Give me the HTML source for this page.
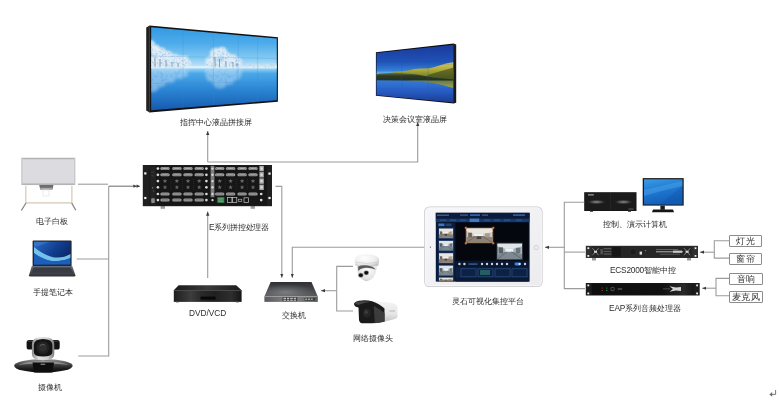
<!DOCTYPE html>
<html><head><meta charset="utf-8">
<style>
html,body{margin:0;padding:0;background:#fff;}
body{width:780px;height:406px;position:relative;overflow:hidden;font-family:"Liberation Sans",sans-serif;}
svg{position:absolute;left:0;top:0;}
.t{position:absolute;white-space:nowrap;font-size:8.3px;line-height:9px;color:#2e2e2e;will-change:transform;}
.bx{position:absolute;border:1px solid #8c8c8c;border-radius:1px;background:#fff;font-size:9px;line-height:10px;color:#333;text-align:center;will-change:transform;}
</style></head><body>
<svg width="780" height="406" viewBox="0 0 780 406">
<defs>
  <marker id="ar" markerWidth="6" markerHeight="6" refX="4.2" refY="3" orient="auto" markerUnits="userSpaceOnUse">
    <path d="M0,1.3 L4.2,3 L0,4.7 Z" fill="#3a3a3a"/>
  </marker>
  <marker id="ar2" markerWidth="8" markerHeight="6" refX="6.4" refY="3" orient="auto" markerUnits="userSpaceOnUse">
    <path d="M0,1.4 L3.2,3 L0,4.6 Z M3.2,1.4 L6.4,3 L3.2,4.6 Z" fill="#3a3a3a"/>
  </marker>
</defs>

<!-- ===== video wall 1 ===== -->
<defs>
  <clipPath id="w1c"><path d="M151.2,27.2 L276.8,38.6 L276.8,100.3 L151.2,110.3 Z"/></clipPath>
  <linearGradient id="w1sky" gradientUnits="userSpaceOnUse" x1="0" y1="27" x2="0" y2="110">
    <stop offset="0" stop-color="#3299e2"/><stop offset="0.2" stop-color="#4eaceb"/><stop offset="0.38" stop-color="#86cbf2"/>
    <stop offset="0.46" stop-color="#b6def6"/><stop offset="0.485" stop-color="#dff1fb"/><stop offset="0.51" stop-color="#8ccdf2"/>
    <stop offset="0.56" stop-color="#4aa8e9"/><stop offset="0.75" stop-color="#2c86d4"/><stop offset="1" stop-color="#175ab0"/>
  </linearGradient>
  <filter id="snow" x="-10%" y="-10%" width="120%" height="120%"><feGaussianBlur in="SourceGraphic" stdDeviation="1" result="g"/><feTurbulence type="fractalNoise" baseFrequency="0.45" numOctaves="2" seed="4" result="n"/><feColorMatrix in="n" type="matrix" values="0 0 0 0 0.42  0 0 0 0 0.6  0 0 0 0 0.78  0 0 0 -3.2 1.75" result="c"/><feComposite in="c" in2="g" operator="in" result="t"/><feMerge><feMergeNode in="g"/><feMergeNode in="t"/></feMerge></filter>
  <filter id="snow2" x="-10%" y="-10%" width="120%" height="120%"><feGaussianBlur in="SourceGraphic" stdDeviation="1.4" result="g"/><feTurbulence type="fractalNoise" baseFrequency="0.28" numOctaves="2" seed="7" result="n"/><feColorMatrix in="n" type="matrix" values="0 0 0 0 0.25  0 0 0 0 0.5  0 0 0 0 0.8  0 0 0 -2.4 1.3" result="c"/><feComposite in="c" in2="g" operator="in" result="t"/><feMerge><feMergeNode in="g"/><feMergeNode in="t"/></feMerge></filter>
  <filter id="bl1" x="-30%" y="-30%" width="160%" height="160%"><feGaussianBlur stdDeviation="1.2"/></filter>
  <filter id="bl2" x="-30%" y="-30%" width="160%" height="160%"><feGaussianBlur stdDeviation="2"/></filter>
  <filter id="bl05" x="-30%" y="-30%" width="160%" height="160%"><feGaussianBlur stdDeviation="0.6"/></filter>
  <clipPath id="w2c"><path d="M376.5,53 L453.2,44.8 L453.2,102.4 L376.5,95.2 Z"/></clipPath>
  <linearGradient id="w2sky" gradientUnits="userSpaceOnUse" x1="0" y1="44" x2="0" y2="103">
    <stop offset="0" stop-color="#1a389a"/><stop offset="0.3" stop-color="#2052b6"/><stop offset="0.45" stop-color="#3480d8"/>
    <stop offset="0.5" stop-color="#78b6ea"/><stop offset="0.56" stop-color="#3a82dc"/><stop offset="0.78" stop-color="#2860c6"/><stop offset="1" stop-color="#1b3a92"/>
  </linearGradient>
  <linearGradient id="w2mt" gradientUnits="userSpaceOnUse" x1="0" y1="62" x2="0" y2="80">
    <stop offset="0" stop-color="#d2c66a"/><stop offset="0.45" stop-color="#adaa36"/><stop offset="1" stop-color="#5c6a22"/>
  </linearGradient>
  <linearGradient id="w2tl" gradientUnits="userSpaceOnUse" x1="0" y1="72.5" x2="0" y2="81">
    <stop offset="0" stop-color="#6a7a4a"/><stop offset="0.4" stop-color="#2e3a24"/><stop offset="1" stop-color="#223020"/>
  </linearGradient>
  <linearGradient id="w2rf" gradientUnits="userSpaceOnUse" x1="0" y1="78" x2="0" y2="95">
    <stop offset="0" stop-color="#5a6a2a"/><stop offset="0.5" stop-color="#a3a440"/><stop offset="1" stop-color="#3a6ac8" stop-opacity="0"/>
  </linearGradient>
</defs>
<path d="M146.2,27.6 L149.6,25.4 L149.6,112.4 L146.2,110.4 Z" fill="#222"/>
<path d="M149.4,25.4 L277.9,37.2 L277.9,101.8 L149.4,112.4 Z" fill="#121212"/>
<g clip-path="url(#w1c)">
  <rect x="150" y="26" width="128" height="86" fill="url(#w1sky)"/>
  <!-- trees left mass -->
  <g filter="url(#snow)" fill="#dfedf8">
    <circle cx="150" cy="45" r="5"/><circle cx="155" cy="50" r="5.5"/><circle cx="161" cy="53" r="5.5"/><circle cx="168" cy="56" r="5"/><circle cx="175" cy="58.5" r="4.5"/><circle cx="182" cy="61" r="4"/><circle cx="188" cy="63.5" r="3.2"/>
    <rect x="150" y="56" width="38" height="12"/>
    <circle cx="210" cy="61" r="4.5"/><circle cx="216" cy="54" r="6"/><circle cx="222" cy="52" r="5"/><circle cx="227" cy="57" r="4.5"/><circle cx="233" cy="59" r="4.5"/><circle cx="238" cy="62" r="4"/>
    <rect x="206" y="61" width="35" height="7"/>
  </g>
  <g stroke="#4f6c8c" stroke-width="0.7" opacity="0.85">
    <path d="M155,57 V68 M160,59 V68 M166,60 V68 M172,62 V68 M178,63 V68 M215,57 V68 M219.5,59 V68 M226,61 V68 M233,62 V68 M237,63 V68"/>
  </g>
  <rect x="150" y="66.6" width="128" height="1.4" fill="#eef7fc" opacity="0.6"/>
  <g filter="url(#snow)" opacity="0.8"><path d="M241,68 L241,65.5 Q255,64 278,64.2 L278,68 Z" fill="#d6e8f5"/></g>
  
  <!-- reflections -->
  <g filter="url(#snow2)" opacity="0.5" fill="#c4e0f6">
    <rect x="150" y="68.5" width="38" height="8"/><circle cx="152" cy="84" r="8"/><circle cx="160" cy="80" r="7"/><circle cx="170" cy="77" r="6"/><circle cx="180" cy="74" r="5"/>
    <rect x="205" y="68.5" width="37" height="6"/><circle cx="212" cy="76" r="6"/><circle cx="220" cy="81" r="7.5"/><circle cx="229" cy="79" r="5.5"/><circle cx="236" cy="75" r="5"/>
  </g>
  <g stroke="#3a8ad4" stroke-width="0.45" opacity="0.5" fill="none">
    <path d="M183,26 V112 M213.4,26 V112 M238.2,26 V112 M257.6,26 V112"/>
    <path d="M150,56 L278,58.5 M150,83.5 L278,82"/>
  </g>
</g>
<!-- ===== video wall 2 ===== -->
<path d="M453.6,43.4 L456.2,44.6 L456.2,102.8 L453.6,103.6 Z" fill="#1a1a1a"/>
<path d="M375.9,52.2 L453.8,43.4 L453.8,103.4 L375.9,95.8 Z" fill="#0b0b0b"/>
<g clip-path="url(#w2c)">
  <rect x="376" y="44" width="78" height="60" fill="url(#w2sky)"/>
  <path d="M384,74 Q396,71.5 408,70.5 Q415,68.5 421,68.5 Q427,68.6 431,68 Q440,65.5 446,63.6 Q450,62.6 454,62.2 L454,80 L384,80 Z" fill="url(#w2mt)" filter="url(#bl05)"/>
  <path d="M428,75 Q440,71 454,67.5 L454,80 L424,80 Z" fill="#3c4a1c" opacity="0.65" filter="url(#bl05)"/>
  <path d="M376,74.2 Q381,72.8 387,73.3 Q395,72.4 401,73.2 Q410,73.6 417,74.5 Q425,76.2 433,77.4 L454,79.4 L454,81 L376,80.2 Z" fill="url(#w2tl)" filter="url(#bl05)"/>
  <path d="M404,80.5 Q424,81.5 438,84 Q447,86.2 454,88.5 L454,80.5 Z" fill="url(#w2rf)" opacity="0.85" filter="url(#bl05)"/>
  <g stroke="#2a5ab8" stroke-width="0.45" opacity="0.55" fill="none">
    <path d="M401.6,44 V104 M428.1,44 V104 M376,65.5 L454,64 M376,88.5 L454,89"/>
  </g>
</g>
<!-- ===== whiteboard ===== -->
<g>
  <path d="M25.8,186 V203 M71.9,186 V203" stroke="#d6c7b2" stroke-width="1.2"/>
  <path d="M25.8,202.8 H71.9" stroke="#d6c7b2" stroke-width="1.2"/>
  <path d="M26,203 L21.3,210.5 M71.7,203 L75.8,210.3" stroke="#8a8580" stroke-width="1.3"/>
  <rect x="21.2" y="157.7" width="54.2" height="27.4" fill="#c6c6c9"/>
  <rect x="22.4" y="159" width="51.8" height="24.8" fill="#dcdce0"/>
  <rect x="22.4" y="158.2" width="51.8" height="1" fill="#acacae"/><rect x="22.4" y="183.6" width="51.8" height="1" fill="#a9a9ab"/>
  <path d="M39.2,185 H53.5 L52.5,189.5 H40.2 Z" fill="#6d6d6d"/>
  <rect x="40.2" y="187.8" width="12.3" height="1.6" fill="#a9a9a9"/>
  <rect x="43" y="190" width="6" height="6" fill="none" stroke="#e2e2e2" stroke-width="0.7"/>
</g>
<!-- ===== laptop ===== -->
<defs>
  <linearGradient id="lpscr" x1="0" y1="0" x2="1" y2="0.6">
    <stop offset="0" stop-color="#2a6cc4"/><stop offset="0.55" stop-color="#123f92"/><stop offset="1" stop-color="#0a2666"/>
  </linearGradient>
  <linearGradient id="lpbase" x1="0" y1="0" x2="0" y2="1">
    <stop offset="0" stop-color="#6a6e78"/><stop offset="0.6" stop-color="#464a53"/><stop offset="1" stop-color="#2c2f35"/>
  </linearGradient>
</defs>
<g>
  <rect x="32.6" y="240.6" width="39" height="25.6" rx="0.8" fill="#25272c"/>
  <rect x="34" y="241.8" width="36.4" height="22.8" fill="url(#lpscr)"/>
  <path d="M34,247 Q42,254 52,257 Q62,259 70.4,254 L70.4,258 Q62,262 50,261 Q40,259 34,253 Z" fill="#7fd0f4" opacity="0.9" filter="url(#bl05)"/>
  <path d="M34,253 Q42,259 52,261 Q62,262 70.4,258 L70.4,264.6 H34 Z" fill="#1d5fb8"/>
  <path d="M34,241.8 H50 Q42,245 34,247 Z" fill="#3a7fd0" opacity="0.6"/>
  <path d="M31.8,266 H72.2 L75.4,275.2 Q75.4,276.4 74.2,276.4 H30.2 Q29,276.4 29,275.2 Z" fill="url(#lpbase)"/>
  <path d="M33.6,267.6 H70.6 L72.6,272.8 H31.6 Z" fill="#383b42"/>
</g>
<!-- ===== conference camera ===== -->
<defs>
  <linearGradient id="cmbase" x1="0" y1="0" x2="0" y2="1">
    <stop offset="0" stop-color="#9a9a9a"/><stop offset="0.35" stop-color="#4a4a4a"/><stop offset="0.7" stop-color="#1e1e1e"/><stop offset="1" stop-color="#0a0a0a"/>
  </linearGradient>
  <linearGradient id="cmring" x1="0" y1="0" x2="1" y2="0">
    <stop offset="0" stop-color="#8a8a8a"/><stop offset="0.3" stop-color="#e0e0e0"/><stop offset="0.7" stop-color="#d0d0d0"/><stop offset="1" stop-color="#7a7a7a"/>
  </linearGradient>
</defs>
<g>
  <ellipse cx="43.4" cy="365.8" rx="29.3" ry="6.8" fill="url(#cmbase)"/>
  <path d="M18,365 Q25,361.5 43,361 Q61,361.5 69,365 Q61,363.5 43,363.4 Q25,363.5 18,365 Z" fill="#b5b5b5" opacity="0.6"/>
  <path d="M32.5,362.6 H54 L52.5,372.4 H34 Z" fill="#0e0e0e"/>
  <rect x="40.6" y="363.6" width="4.6" height="1.4" fill="#7a7a7a"/>
  <rect x="26.6" y="340" width="33.1" height="9.5" rx="2.6" fill="#121212"/>
  <rect x="27.5" y="340.6" width="31" height="1.4" rx="0.7" fill="#3a3a3a" opacity="0.8"/>
  <path d="M31.9,344 Q31.9,337.1 43,337.1 Q54.3,337.1 54.3,344 V354 Q54.3,360.2 43,360.2 Q31.9,360.2 31.9,354 Z" fill="url(#cmring)"/>
  <path d="M33.8,345 Q33.8,339 43,339 Q52.4,339 52.4,345 V352 Q52.4,356.5 43,356.5 Q33.8,356.5 33.8,352 Z" fill="#141414"/>
  <circle cx="42.8" cy="347.6" r="6.4" fill="#222"/>
  <circle cx="42.8" cy="347.6" r="4" fill="#2e2e2e"/>
  <path d="M40,345.5 Q42,343.8 45,345" stroke="#6a6a6a" stroke-width="0.8" fill="none"/>
</g>
<!-- ===== processor ===== -->
<g>
<rect x="160.6" y="205" width="4.4" height="3.8" fill="#a0a0a0"/><rect x="250.6" y="205" width="4.4" height="3.8" fill="#a0a0a0"/>
<rect x="142.8" y="165" width="129.2" height="41.2" fill="#1f1f1f"/>
<rect x="149.6" y="165.8" width="117.4" height="39.6" fill="#161616"/>
<rect x="150.2" y="166.4" width="5.6" height="38.4" fill="#222"/>
<rect x="144.20000000000002" y="172.3" width="2.2" height="2.2" fill="#f2f2f2"/>
<rect x="144.20000000000002" y="196.9" width="2.2" height="2.2" fill="#f2f2f2"/>
<rect x="268.4" y="172.5" width="2.2" height="2.2" fill="#f2f2f2"/>
<rect x="268.4" y="196.9" width="2.2" height="2.2" fill="#f2f2f2"/>
<rect x="160.3" y="167.1" width="9.4" height="3" rx="1.5" fill="#9d9d9d"/><rect x="161.6" y="167.79999999999998" width="6.8" height="1.6" rx="0.8" fill="#5a5a5a"/><rect x="162.2" y="168.25" width="5.6" height="0.7" fill="#d0d0d0"/>
<rect x="172.20000000000002" y="167.1" width="9.4" height="3" rx="1.5" fill="#9d9d9d"/><rect x="173.5" y="167.79999999999998" width="6.8" height="1.6" rx="0.8" fill="#5a5a5a"/><rect x="174.1" y="168.25" width="5.6" height="0.7" fill="#d0d0d0"/>
<rect x="183.3" y="167.1" width="9.4" height="3" rx="1.5" fill="#9d9d9d"/><rect x="184.6" y="167.79999999999998" width="6.8" height="1.6" rx="0.8" fill="#5a5a5a"/><rect x="185.2" y="168.25" width="5.6" height="0.7" fill="#d0d0d0"/>
<rect x="194.5" y="167.1" width="9.4" height="3" rx="1.5" fill="#9d9d9d"/><rect x="195.79999999999998" y="167.79999999999998" width="6.8" height="1.6" rx="0.8" fill="#5a5a5a"/><rect x="196.39999999999998" y="168.25" width="5.6" height="0.7" fill="#d0d0d0"/>
<rect x="215.0" y="167.1" width="9.4" height="3" rx="1.5" fill="#9d9d9d"/><rect x="216.29999999999998" y="167.79999999999998" width="6.8" height="1.6" rx="0.8" fill="#5a5a5a"/><rect x="216.89999999999998" y="168.25" width="5.6" height="0.7" fill="#d0d0d0"/>
<rect x="225.9" y="167.1" width="9.4" height="3" rx="1.5" fill="#9d9d9d"/><rect x="227.2" y="167.79999999999998" width="6.8" height="1.6" rx="0.8" fill="#5a5a5a"/><rect x="227.79999999999998" y="168.25" width="5.6" height="0.7" fill="#d0d0d0"/>
<rect x="237.4" y="167.1" width="9.4" height="3" rx="1.5" fill="#9d9d9d"/><rect x="238.7" y="167.79999999999998" width="6.8" height="1.6" rx="0.8" fill="#5a5a5a"/><rect x="239.29999999999998" y="168.25" width="5.6" height="0.7" fill="#d0d0d0"/>
<rect x="248.3" y="167.1" width="9.4" height="3" rx="1.5" fill="#9d9d9d"/><rect x="249.6" y="167.79999999999998" width="6.8" height="1.6" rx="0.8" fill="#5a5a5a"/><rect x="250.2" y="168.25" width="5.6" height="0.7" fill="#d0d0d0"/>
<circle cx="157.9" cy="168.6" r="1.35" fill="#d8d8d8"/>
<circle cx="206.4" cy="168.6" r="1.35" fill="#d8d8d8"/>
<rect x="259.4" y="165.9" width="4.4" height="5.4" fill="#ababab"/>
<circle cx="261.6" cy="168.6" r="1.3" fill="#dadada"/>
<rect x="160.3" y="173.3" width="9.4" height="3" rx="1.5" fill="#9d9d9d"/><rect x="161.6" y="174.0" width="6.8" height="1.6" rx="0.8" fill="#5a5a5a"/><rect x="162.2" y="174.45000000000002" width="5.6" height="0.7" fill="#d0d0d0"/>
<rect x="172.20000000000002" y="173.3" width="9.4" height="3" rx="1.5" fill="#9d9d9d"/><rect x="173.5" y="174.0" width="6.8" height="1.6" rx="0.8" fill="#5a5a5a"/><rect x="174.1" y="174.45000000000002" width="5.6" height="0.7" fill="#d0d0d0"/>
<rect x="183.3" y="173.3" width="9.4" height="3" rx="1.5" fill="#9d9d9d"/><rect x="184.6" y="174.0" width="6.8" height="1.6" rx="0.8" fill="#5a5a5a"/><rect x="185.2" y="174.45000000000002" width="5.6" height="0.7" fill="#d0d0d0"/>
<rect x="194.5" y="173.3" width="9.4" height="3" rx="1.5" fill="#9d9d9d"/><rect x="195.79999999999998" y="174.0" width="6.8" height="1.6" rx="0.8" fill="#5a5a5a"/><rect x="196.39999999999998" y="174.45000000000002" width="5.6" height="0.7" fill="#d0d0d0"/>
<rect x="215.0" y="173.3" width="9.4" height="3" rx="1.5" fill="#9d9d9d"/><rect x="216.29999999999998" y="174.0" width="6.8" height="1.6" rx="0.8" fill="#5a5a5a"/><rect x="216.89999999999998" y="174.45000000000002" width="5.6" height="0.7" fill="#d0d0d0"/>
<rect x="225.9" y="173.3" width="9.4" height="3" rx="1.5" fill="#9d9d9d"/><rect x="227.2" y="174.0" width="6.8" height="1.6" rx="0.8" fill="#5a5a5a"/><rect x="227.79999999999998" y="174.45000000000002" width="5.6" height="0.7" fill="#d0d0d0"/>
<rect x="237.4" y="173.3" width="9.4" height="3" rx="1.5" fill="#9d9d9d"/><rect x="238.7" y="174.0" width="6.8" height="1.6" rx="0.8" fill="#5a5a5a"/><rect x="239.29999999999998" y="174.45000000000002" width="5.6" height="0.7" fill="#d0d0d0"/>
<rect x="248.3" y="173.3" width="9.4" height="3" rx="1.5" fill="#9d9d9d"/><rect x="249.6" y="174.0" width="6.8" height="1.6" rx="0.8" fill="#5a5a5a"/><rect x="250.2" y="174.45000000000002" width="5.6" height="0.7" fill="#d0d0d0"/>
<circle cx="157.9" cy="174.8" r="1.35" fill="#d8d8d8"/>
<circle cx="206.4" cy="174.8" r="1.35" fill="#d8d8d8"/>
<rect x="259.4" y="172.10000000000002" width="4.4" height="5.4" fill="#ababab"/>
<circle cx="261.6" cy="174.8" r="1.3" fill="#dadada"/>
<path d="M165.00,178.70 L165.59,180.29 L167.28,180.36 L165.95,181.41 L166.41,183.04 L165.00,182.10 L163.59,183.04 L164.05,181.41 L162.72,180.36 L164.41,180.29 Z" fill="#6a6a6a"/>
<path d="M176.90,178.70 L177.49,180.29 L179.18,180.36 L177.85,181.41 L178.31,183.04 L176.90,182.10 L175.49,183.04 L175.95,181.41 L174.62,180.36 L176.31,180.29 Z" fill="#6a6a6a"/>
<path d="M188.00,178.70 L188.59,180.29 L190.28,180.36 L188.95,181.41 L189.41,183.04 L188.00,182.10 L186.59,183.04 L187.05,181.41 L185.72,180.36 L187.41,180.29 Z" fill="#6a6a6a"/>
<path d="M199.20,178.70 L199.79,180.29 L201.48,180.36 L200.15,181.41 L200.61,183.04 L199.20,182.10 L197.79,183.04 L198.25,181.41 L196.92,180.36 L198.61,180.29 Z" fill="#6a6a6a"/>
<path d="M219.70,178.70 L220.29,180.29 L221.98,180.36 L220.65,181.41 L221.11,183.04 L219.70,182.10 L218.29,183.04 L218.75,181.41 L217.42,180.36 L219.11,180.29 Z" fill="#6a6a6a"/>
<path d="M230.60,178.70 L231.19,180.29 L232.88,180.36 L231.55,181.41 L232.01,183.04 L230.60,182.10 L229.19,183.04 L229.65,181.41 L228.32,180.36 L230.01,180.29 Z" fill="#6a6a6a"/>
<path d="M242.10,178.70 L242.69,180.29 L244.38,180.36 L243.05,181.41 L243.51,183.04 L242.10,182.10 L240.69,183.04 L241.15,181.41 L239.82,180.36 L241.51,180.29 Z" fill="#6a6a6a"/>
<path d="M253.00,178.70 L253.59,180.29 L255.28,180.36 L253.95,181.41 L254.41,183.04 L253.00,182.10 L251.59,183.04 L252.05,181.41 L250.72,180.36 L252.41,180.29 Z" fill="#6a6a6a"/>
<circle cx="157.9" cy="181.1" r="1.35" fill="#d8d8d8"/>
<circle cx="206.4" cy="181.1" r="1.35" fill="#d8d8d8"/>
<rect x="259.4" y="178.4" width="4.4" height="5.4" fill="#ababab"/>
<circle cx="261.6" cy="181.1" r="1.3" fill="#dadada"/>
<path d="M165.00,184.90 L165.59,186.49 L167.28,186.56 L165.95,187.61 L166.41,189.24 L165.00,188.30 L163.59,189.24 L164.05,187.61 L162.72,186.56 L164.41,186.49 Z" fill="#6a6a6a"/>
<path d="M176.90,184.90 L177.49,186.49 L179.18,186.56 L177.85,187.61 L178.31,189.24 L176.90,188.30 L175.49,189.24 L175.95,187.61 L174.62,186.56 L176.31,186.49 Z" fill="#6a6a6a"/>
<path d="M188.00,184.90 L188.59,186.49 L190.28,186.56 L188.95,187.61 L189.41,189.24 L188.00,188.30 L186.59,189.24 L187.05,187.61 L185.72,186.56 L187.41,186.49 Z" fill="#6a6a6a"/>
<path d="M199.20,184.90 L199.79,186.49 L201.48,186.56 L200.15,187.61 L200.61,189.24 L199.20,188.30 L197.79,189.24 L198.25,187.61 L196.92,186.56 L198.61,186.49 Z" fill="#6a6a6a"/>
<path d="M219.70,184.90 L220.29,186.49 L221.98,186.56 L220.65,187.61 L221.11,189.24 L219.70,188.30 L218.29,189.24 L218.75,187.61 L217.42,186.56 L219.11,186.49 Z" fill="#6a6a6a"/>
<path d="M230.60,184.90 L231.19,186.49 L232.88,186.56 L231.55,187.61 L232.01,189.24 L230.60,188.30 L229.19,189.24 L229.65,187.61 L228.32,186.56 L230.01,186.49 Z" fill="#6a6a6a"/>
<path d="M242.10,184.90 L242.69,186.49 L244.38,186.56 L243.05,187.61 L243.51,189.24 L242.10,188.30 L240.69,189.24 L241.15,187.61 L239.82,186.56 L241.51,186.49 Z" fill="#6a6a6a"/>
<path d="M253.00,184.90 L253.59,186.49 L255.28,186.56 L253.95,187.61 L254.41,189.24 L253.00,188.30 L251.59,189.24 L252.05,187.61 L250.72,186.56 L252.41,186.49 Z" fill="#6a6a6a"/>
<circle cx="157.9" cy="187.3" r="1.35" fill="#d8d8d8"/>
<circle cx="206.4" cy="187.3" r="1.35" fill="#d8d8d8"/>
<rect x="259.4" y="184.60000000000002" width="4.4" height="5.4" fill="#ababab"/>
<circle cx="261.6" cy="187.3" r="1.3" fill="#dadada"/>
<rect x="160.3" y="192.5" width="9.4" height="3" rx="1.5" fill="#9d9d9d"/><rect x="161.6" y="193.2" width="6.8" height="1.6" rx="0.8" fill="#5a5a5a"/><rect x="162.2" y="193.65" width="5.6" height="0.7" fill="#d0d0d0"/>
<rect x="172.20000000000002" y="192.5" width="9.4" height="3" rx="1.5" fill="#9d9d9d"/><rect x="173.5" y="193.2" width="6.8" height="1.6" rx="0.8" fill="#5a5a5a"/><rect x="174.1" y="193.65" width="5.6" height="0.7" fill="#d0d0d0"/>
<rect x="183.3" y="192.5" width="9.4" height="3" rx="1.5" fill="#9d9d9d"/><rect x="184.6" y="193.2" width="6.8" height="1.6" rx="0.8" fill="#5a5a5a"/><rect x="185.2" y="193.65" width="5.6" height="0.7" fill="#d0d0d0"/>
<rect x="194.5" y="192.5" width="9.4" height="3" rx="1.5" fill="#9d9d9d"/><rect x="195.79999999999998" y="193.2" width="6.8" height="1.6" rx="0.8" fill="#5a5a5a"/><rect x="196.39999999999998" y="193.65" width="5.6" height="0.7" fill="#d0d0d0"/>
<rect x="215.0" y="192.5" width="9.4" height="3" rx="1.5" fill="#9d9d9d"/><rect x="216.29999999999998" y="193.2" width="6.8" height="1.6" rx="0.8" fill="#5a5a5a"/><rect x="216.89999999999998" y="193.65" width="5.6" height="0.7" fill="#d0d0d0"/>
<rect x="225.9" y="192.5" width="9.4" height="3" rx="1.5" fill="#9d9d9d"/><rect x="227.2" y="193.2" width="6.8" height="1.6" rx="0.8" fill="#5a5a5a"/><rect x="227.79999999999998" y="193.65" width="5.6" height="0.7" fill="#d0d0d0"/>
<rect x="237.4" y="192.5" width="9.4" height="3" rx="1.5" fill="#9d9d9d"/><rect x="238.7" y="193.2" width="6.8" height="1.6" rx="0.8" fill="#5a5a5a"/><rect x="239.29999999999998" y="193.65" width="5.6" height="0.7" fill="#d0d0d0"/>
<rect x="248.3" y="192.5" width="9.4" height="3" rx="1.5" fill="#9d9d9d"/><rect x="249.6" y="193.2" width="6.8" height="1.6" rx="0.8" fill="#5a5a5a"/><rect x="250.2" y="193.65" width="5.6" height="0.7" fill="#d0d0d0"/>
<circle cx="157.9" cy="194" r="1.35" fill="#d8d8d8"/>
<circle cx="206.4" cy="194" r="1.35" fill="#d8d8d8"/>
<circle cx="261.2" cy="194" r="1.35" fill="#d8d8d8"/>
<rect x="160.3" y="198.6" width="9.4" height="3" rx="1.5" fill="#9d9d9d"/><rect x="161.6" y="199.29999999999998" width="6.8" height="1.6" rx="0.8" fill="#5a5a5a"/><rect x="162.2" y="199.75" width="5.6" height="0.7" fill="#d0d0d0"/>
<rect x="172.20000000000002" y="198.6" width="9.4" height="3" rx="1.5" fill="#9d9d9d"/><rect x="173.5" y="199.29999999999998" width="6.8" height="1.6" rx="0.8" fill="#5a5a5a"/><rect x="174.1" y="199.75" width="5.6" height="0.7" fill="#d0d0d0"/>
<rect x="183.3" y="198.6" width="9.4" height="3" rx="1.5" fill="#9d9d9d"/><rect x="184.6" y="199.29999999999998" width="6.8" height="1.6" rx="0.8" fill="#5a5a5a"/><rect x="185.2" y="199.75" width="5.6" height="0.7" fill="#d0d0d0"/>
<rect x="194.5" y="198.6" width="9.4" height="3" rx="1.5" fill="#9d9d9d"/><rect x="195.79999999999998" y="199.29999999999998" width="6.8" height="1.6" rx="0.8" fill="#5a5a5a"/><rect x="196.39999999999998" y="199.75" width="5.6" height="0.7" fill="#d0d0d0"/>
<circle cx="157.9" cy="200.1" r="1.35" fill="#d8d8d8"/>
<circle cx="206.4" cy="200.1" r="1.35" fill="#d8d8d8"/>
<circle cx="261.2" cy="200.1" r="1.35" fill="#d8d8d8"/>
<rect x="210.6" y="165.8" width="3.8" height="31.4" fill="#7e7e7e"/>
<circle cx="212.5" cy="168.6" r="1.2" fill="#d8d8d8"/>
<circle cx="212.5" cy="174.8" r="1.2" fill="#d8d8d8"/>
<circle cx="212.5" cy="181.1" r="1.2" fill="#d8d8d8"/>
<circle cx="212.5" cy="187.3" r="1.2" fill="#d8d8d8"/>
<circle cx="212.5" cy="194" r="1.2" fill="#d8d8d8"/>
<circle cx="212.5" cy="200.1" r="1.2" fill="#d8d8d8"/>
<path d="M170.9,179 V190" stroke="#3a3a3a" stroke-width="0.5" stroke-dasharray="1 1"/>
<path d="M182.4,179 V190" stroke="#3a3a3a" stroke-width="0.5" stroke-dasharray="1 1"/>
<path d="M193.6,179 V190" stroke="#3a3a3a" stroke-width="0.5" stroke-dasharray="1 1"/>
<path d="M225.2,179 V190" stroke="#3a3a3a" stroke-width="0.5" stroke-dasharray="1 1"/>
<path d="M236.4,179 V190" stroke="#3a3a3a" stroke-width="0.5" stroke-dasharray="1 1"/>
<path d="M247.6,179 V190" stroke="#3a3a3a" stroke-width="0.5" stroke-dasharray="1 1"/>
<rect x="217.3" y="197.2" width="7" height="5.6" fill="#3d8a55"/>
<path d="M218.5,198.5 h4.6 M218.5,200 h4.6 M218.5,201.5 h4.6" stroke="#79b98a" stroke-width="0.5"/>
<rect x="227.5" y="197.4" width="4.4" height="5" fill="none" stroke="#c8c8c8" stroke-width="0.7"/>
<rect x="232.4" y="197.4" width="4.4" height="5" fill="none" stroke="#c8c8c8" stroke-width="0.7"/>
<rect x="238.6" y="199.2" width="3.2" height="2.2" fill="none" stroke="#bdbdbd" stroke-width="0.6"/>
<rect x="244" y="197.8" width="4.6" height="4.6" fill="none" stroke="#c8c8c8" stroke-width="0.7"/>
<rect x="151.2" y="171.8" width="3.2" height="0.6" fill="#4a4a4a"/><rect x="151.2" y="175.6" width="3.2" height="0.6" fill="#4a4a4a"/>
<circle cx="152.6" cy="187.8" r="0.6" fill="#9a9a9a"/><circle cx="153.4" cy="191" r="0.5" fill="#7a7a7a"/>
<rect x="151.2" y="198.2" width="3.6" height="4.8" rx="0.9" fill="#8a8a8a"/>
</g>
<!-- ===== DVD ===== -->
<defs>
  <linearGradient id="dvdf" x1="0" y1="0" x2="1" y2="0">
    <stop offset="0" stop-color="#1e1e1e"/><stop offset="0.25" stop-color="#3d3d3d"/><stop offset="0.4" stop-color="#2a2a2a"/>
    <stop offset="0.6" stop-color="#202020"/><stop offset="0.85" stop-color="#2e2e2e"/><stop offset="1" stop-color="#151515"/>
  </linearGradient>
  <linearGradient id="dvdt" x1="0" y1="0" x2="1" y2="0">
    <stop offset="0" stop-color="#1a1a1a"/><stop offset="0.5" stop-color="#3a3a3a"/><stop offset="1" stop-color="#1c1c1c"/>
  </linearGradient>
</defs>
<g>
  <path d="M178.6,285.2 H236.2 L241.6,290.3 H173.8 Z" fill="url(#dvdt)"/>
  <rect x="173.8" y="290.2" width="67.8" height="11.7" fill="url(#dvdf)"/>
  <rect x="173.8" y="290.2" width="67.8" height="0.8" fill="#4a4a4a"/>
  <rect x="200.5" y="296.6" width="15" height="3" fill="#080808"/>
  <rect x="176" y="301.6" width="3" height="0.8" fill="#555"/><rect x="236" y="301.6" width="3" height="0.8" fill="#555"/>
</g>
<!-- ===== switch ===== -->
<defs>
  <linearGradient id="swt" x1="0" y1="0" x2="0" y2="1">
    <stop offset="0" stop-color="#2e3033"/><stop offset="0.6" stop-color="#46484c"/><stop offset="1" stop-color="#5a5c60"/>
  </linearGradient>
  <radialGradient id="swh" cx="0.4" cy="0.7" r="0.55">
    <stop offset="0" stop-color="#9a9ca0" stop-opacity="0.6"/><stop offset="1" stop-color="#8a8c90" stop-opacity="0"/>
  </radialGradient>
  <linearGradient id="swf" x1="0" y1="0" x2="1" y2="0">
    <stop offset="0" stop-color="#5a5a5c"/><stop offset="0.5" stop-color="#8a8a8c"/><stop offset="1" stop-color="#5a5a5c"/>
  </linearGradient>
</defs>
<g>
  <path d="M270.7,281.9 H311.5 L317.8,296.5 H264.4 Z" fill="url(#swt)"/>
  <path d="M270.7,281.9 H311.5 L317.8,296.5 H264.4 Z" fill="url(#swh)"/>
  <rect x="264.4" y="296.3" width="53.4" height="5.6" fill="url(#swf)"/>
  <rect x="264.4" y="296.3" width="53.4" height="0.7" fill="#a5a5a7"/>
  <rect x="282.6" y="297.2" width="14.6" height="4" fill="#2a2a2a"/>
  <g fill="#c9c9c9"><rect x="283.4" y="297.7" width="2.6" height="1.2"/><rect x="286.8" y="297.7" width="2.6" height="1.2"/><rect x="290.2" y="297.7" width="2.6" height="1.2"/><rect x="293.6" y="297.7" width="2.6" height="1.2"/>
  <rect x="283.4" y="299.6" width="2.6" height="1.2"/><rect x="286.8" y="299.6" width="2.6" height="1.2"/><rect x="290.2" y="299.6" width="2.6" height="1.2"/><rect x="293.6" y="299.6" width="2.6" height="1.2"/></g>
  <rect x="304.5" y="298" width="10.5" height="2.6" fill="#3a3a3a"/>
  <g fill="#bdbdbd"><rect x="305.2" y="298.6" width="2" height="1.2"/><rect x="308" y="298.6" width="2" height="1.2"/><rect x="310.8" y="298.6" width="2" height="1.2"/></g>
</g>
<!-- ===== dome camera ===== -->
<defs>
  <radialGradient id="dome" cx="0.4" cy="0.3" r="0.8">
    <stop offset="0" stop-color="#ffffff"/><stop offset="0.6" stop-color="#ececec"/><stop offset="1" stop-color="#b8b8b8"/>
  </radialGradient>
  <radialGradient id="domeball" cx="0.55" cy="0.35" r="0.75">
    <stop offset="0" stop-color="#fafafa"/><stop offset="0.7" stop-color="#e2e2e2"/><stop offset="1" stop-color="#b0b0b0"/>
  </radialGradient>
</defs>
<g>
  <path d="M354.6,260 Q354.6,254.5 366.5,254.2 Q378.6,254.5 379.2,260 L378.4,265.5 Q366.5,268.5 355.4,265.5 Z" fill="url(#dome)"/>
  <path d="M355.5,262 Q366.5,265 378.6,262" stroke="#c8c8c8" stroke-width="0.6" fill="none"/>
  <path d="M357,265 Q356.5,279 366.5,281.2 Q376,279.5 377,266 Q366.5,268.5 357,265 Z" fill="url(#domeball)"/>
  <path d="M358.2,266.4 Q362,264.8 368,265.6 Q374,266.6 375.6,269.6 Q370,267.4 364,268 Q360,268.6 358.2,271 Z" fill="#5a5a5a"/>
  <ellipse cx="360.8" cy="275.2" rx="2.6" ry="2.4" fill="#8a8a8a"/>
  <ellipse cx="366.3" cy="272.8" rx="2.6" ry="2.4" fill="#8a8a8a"/>
  <ellipse cx="360.8" cy="275.2" rx="1.9" ry="1.8" fill="#0e0e0e"/>
  <ellipse cx="366.3" cy="272.8" rx="1.9" ry="1.8" fill="#0e0e0e"/>
</g>
<!-- ===== bullet camera ===== -->
<defs>
  <linearGradient id="bulw" x1="0" y1="0" x2="0" y2="1">
    <stop offset="0" stop-color="#f4f4f4"/><stop offset="0.6" stop-color="#e6e6e6"/><stop offset="1" stop-color="#c2c2c2"/>
  </linearGradient>
</defs>
<g>
  <path d="M369,301 Q385,301.5 394,303.5 Q397.5,304.5 397.5,308 V316 Q397.5,318.6 394,319.2 L381,322.6 L372,322 Z" fill="url(#bulw)"/>
  <path d="M354,303.5 Q355,300.8 362,300.4 Q368,300.2 372,301.2 Q380,304 384.5,308.5 L384.5,321.6 Q378,323.2 372,323.2 L362,323.2 Q359.5,323 359,320 L358.5,307.6 Q354,307 354,303.5 Z" fill="#1a1a1a"/>
  <path d="M373.8,306 Q380,309 384.5,313 V321.8 L374.8,323.2 Z" fill="#3c3c3c"/>
  <path d="M354.4,303.2 Q356,301.4 362,301.2 Q368,301 371,302 Q364,302.6 358,305 Z" fill="#444"/>
  <ellipse cx="366.8" cy="313" rx="4" ry="4.6" fill="#262626"/>
  <ellipse cx="366.2" cy="312.2" rx="1.6" ry="1.9" fill="#3e3e3e"/>
  <rect x="389.5" y="310.6" width="5.5" height="0.8" fill="#a8a8a8"/>
</g>
<!-- ===== tablet ===== -->
<defs>
  <linearGradient id="tabfr" x1="0" y1="0" x2="1" y2="1">
    <stop offset="0" stop-color="#f7f7f9"/><stop offset="1" stop-color="#ececef"/>
  </linearGradient>
  <linearGradient id="vid1" x1="0" y1="0" x2="1" y2="0">
    <stop offset="0" stop-color="#b7a58a"/><stop offset="0.4" stop-color="#d9d2c4"/><stop offset="0.7" stop-color="#9c958a"/><stop offset="1" stop-color="#c9c3b6"/>
  </linearGradient>
  <linearGradient id="vid2" x1="0" y1="0" x2="1" y2="0">
    <stop offset="0" stop-color="#7d8a94"/><stop offset="0.5" stop-color="#c5ccd2"/><stop offset="1" stop-color="#8e9aa4"/>
  </linearGradient>
  <linearGradient id="thumb" x1="0" y1="0" x2="1" y2="0">
    <stop offset="0" stop-color="#8f8a80"/><stop offset="0.5" stop-color="#d8d3c8"/><stop offset="1" stop-color="#a09a90"/>
  </linearGradient>
</defs>
<g>
  <rect x="424.2" y="206.6" width="118.4" height="80.4" rx="5.2" fill="#c6c6ca"/>
  <rect x="424.9" y="207.3" width="117" height="79" rx="4.6" fill="#fbfbfc"/>
  <rect x="425.6" y="208" width="115.6" height="77.6" rx="4.2" fill="url(#tabfr)"/>
  <circle cx="430.4" cy="247.2" r="0.6" fill="#666"/>
  <circle cx="536.2" cy="247.6" r="2.2" fill="none" stroke="#bdbdc2" stroke-width="0.6"/>
  <rect x="435.8" y="212.8" width="93.8" height="68.8" fill="#0a1630"/>
  <rect x="435.8" y="212.8" width="93.8" height="5.6" fill="#0c1b3c"/>
  <rect x="437" y="214.6" width="12" height="1.2" fill="#6d8bb8" opacity="0.7"/>
  <rect x="460" y="214.4" width="8" height="1.4" fill="#3a5a8a"/><rect x="470" y="214.2" width="10" height="1.8" fill="#2a62a8"/><rect x="482" y="214.4" width="6" height="1.4" fill="#3a5a8a"/>
  <rect x="513" y="214.2" width="12" height="1.8" fill="#2e5a92"/>
  <rect x="435.8" y="218.6" width="93.8" height="3.4" fill="#183a6a"/>
  <rect x="469.6" y="218.6" width="9.6" height="3.4" fill="#3f7ac0"/>
  <g fill="#2c5690" opacity="0.8"><rect x="440" y="219.5" width="6" height="1.5"/><rect x="450" y="219.5" width="6" height="1.5"/><rect x="460" y="219.5" width="6" height="1.5"/><rect x="484" y="219.5" width="6" height="1.5"/><rect x="494" y="219.5" width="6" height="1.5"/><rect x="504" y="219.5" width="6" height="1.5"/><rect x="516" y="219.5" width="6" height="1.5"/></g>
  <!-- left thumbs -->
  <symbol id="office" viewBox="0 0 28 16" preserveAspectRatio="none">
    <rect width="28" height="16" fill="#cfc9bf"/>
    <path d="M0,0 H28 V4 L18,6 H8 L0,3 Z" fill="#e9e6e0"/>
    <path d="M0,10 L8,8.5 H18 L28,10 V16 H0 Z" fill="#8d8378"/>
    <path d="M8,6 H18 V8.5 H8 Z" fill="#f2f0ea"/>
    <rect x="2" y="5" width="4" height="5" fill="#6d655c"/>
    <rect x="20" y="5.5" width="5" height="4.5" fill="#a59b8f"/>
    <path d="M0,16 L10,9 M28,16 L17,9" stroke="#5e564e" stroke-width="0.6"/>
    <rect x="11" y="9" width="5" height="3" fill="#4a4540"/>
  </symbol>
  <symbol id="office2" viewBox="0 0 28 16" preserveAspectRatio="none">
    <rect width="28" height="16" fill="#a9b3ba"/>
    <path d="M0,0 H28 V3 L18,5.5 H9 L0,3 Z" fill="#dfe4e8"/>
    <path d="M0,11 L9,8.5 H18 L28,11 V16 H0 Z" fill="#7d8890"/>
    <path d="M9,5.5 H18 V8.5 H9 Z" fill="#eef2f4"/>
    <rect x="1.5" y="4" width="5" height="6" fill="#56626b"/>
    <rect x="21" y="4.5" width="5" height="5.5" fill="#69747c"/>
    <path d="M0,16 L11,8.5 M28,16 L16,8.5" stroke="#4a545b" stroke-width="0.6"/>
  </symbol>
  <rect x="436.5" y="222.6" width="18.5" height="58.4" fill="#0b1c3a"/>
  <rect x="438.4" y="223.5" width="6" height="2.6" fill="#3f77bd"/><rect x="445.5" y="223.5" width="6" height="2.6" fill="#23426e"/>
  <g fill="#1a3560">
    <rect x="438.2" y="227.6" width="15.8" height="11.4"/><rect x="438.2" y="240" width="15.8" height="11.4"/><rect x="438.2" y="252.4" width="15.8" height="11.4"/><rect x="438.2" y="264.8" width="15.8" height="11.4"/><rect x="438.2" y="276.8" width="15.8" height="4.6"/>
  </g>
  <use href="#office" x="439" y="228.4" width="14.2" height="9.8"/>
  <use href="#office2" x="439" y="240.8" width="14.2" height="9.8"/>
  <use href="#office" x="439" y="253.2" width="14.2" height="9.8"/>
  <use href="#office2" x="439" y="265.6" width="14.2" height="9.8"/>
  <use href="#office" x="439" y="277.6" width="14.2" height="3.8"/>
  <!-- main video area -->
  <rect x="455.6" y="222.8" width="73" height="37.8" fill="#04070d"/>
  <rect x="465.6" y="227.6" width="27.7" height="15.7" fill="#7a5a3e"/>
  <use href="#office" x="466.3" y="228.3" width="26.3" height="14.3"/>
  <g fill="#e8713a"><rect x="464.8" y="226.8" width="2" height="2"/><rect x="492.3" y="226.8" width="2" height="2"/><rect x="464.8" y="242.3" width="2" height="2"/><rect x="492.3" y="242.3" width="2" height="2"/></g>
  <rect x="496.6" y="242.7" width="26.2" height="17.2" fill="#3a4148"/>
  <use href="#office2" x="497.3" y="243.4" width="24.8" height="15.8"/>
  <!-- icon row -->
  <g fill="#c9d3e0">
    <circle cx="459.4" cy="264" r="1.2"/><circle cx="464.4" cy="264" r="1.2"/>
    <circle cx="482" cy="264" r="1.2"/><circle cx="487" cy="264" r="1.2"/><circle cx="492" cy="264" r="1.2"/><circle cx="497" cy="264" r="1.2"/><circle cx="502" cy="264" r="1.2"/><circle cx="507" cy="264" r="1.2"/><circle cx="525" cy="264" r="1.2"/>
  </g>
  <rect x="468.5" y="263.2" width="9" height="1.8" fill="#2f4f7e"/>
  <rect x="514.5" y="262.6" width="6.5" height="2.8" rx="1.4" fill="#3d86d8"/><circle cx="519.6" cy="264" r="1.1" fill="#eaf2fb"/>
  <!-- bottom panels -->
  <rect x="455.6" y="267.4" width="73" height="11" fill="#0d2243"/>
  <g fill="none" stroke="#2d5588" stroke-width="0.6">
    <rect x="461" y="268.8" width="15" height="8"/><rect x="478" y="268.8" width="15" height="8"/><rect x="495" y="268.8" width="15" height="8"/><rect x="512" y="268.8" width="15" height="8"/>
  </g>
  <rect x="480" y="270" width="10" height="5" fill="#2f6a6a" opacity="0.8"/>
  <rect x="455.6" y="278.4" width="73" height="3.2" fill="#0a1a36"/>
</g>
<!-- ===== control PC ===== -->
<defs>
  <linearGradient id="mon" x1="0" y1="0" x2="0.3" y2="1">
    <stop offset="0" stop-color="#3a9be6"/><stop offset="0.5" stop-color="#1f79d2"/><stop offset="1" stop-color="#155fb8"/>
  </linearGradient>
</defs>
<g>
  <defs><radialGradient id="pcg" cx="0.5" cy="0.5" r="0.5"><stop offset="0" stop-color="#8a8a8a"/><stop offset="0.5" stop-color="#4a4a4a"/><stop offset="1" stop-color="#1a1a1a" stop-opacity="0"/></radialGradient></defs>
  <rect x="584.2" y="192.2" width="52.3" height="18.8" fill="#151515"/>
  <rect x="585" y="193" width="50.7" height="17.2" fill="#1b1b1b"/>
  <ellipse cx="596.5" cy="202" rx="10" ry="2.6" fill="url(#pcg)"/>
  <ellipse cx="623.5" cy="202" rx="10" ry="2.6" fill="url(#pcg)"/>
  <path d="M610.3,193 V210" stroke="#2a2a2a" stroke-width="0.8"/>
  <rect x="588" y="194.2" width="5.8" height="1.3" fill="#9a9a9a"/>
  <rect x="628.5" y="208.6" width="5" height="0.9" fill="#666"/>
  <rect x="590" y="210.6" width="3" height="1.2" fill="#333"/><rect x="628" y="210.6" width="3" height="1.2" fill="#333"/>
  <rect x="642.7" y="178.1" width="41" height="27.5" fill="#1a1a1a"/>
  <rect x="644" y="179.3" width="38.4" height="25.2" fill="url(#mon)"/>
  <path d="M644,190 Q662,186 682.4,181 L682.4,186 Q664,190 644,196 Z" fill="#5cb2ee" opacity="0.35" filter="url(#bl05)"/><path d="M660,204.5 Q672,194 682.4,186 L682.4,204.5 Z" fill="#0f55aa" opacity="0.35" filter="url(#bl05)"/>
  <rect x="660.4" y="205.6" width="4.4" height="4.2" fill="#1c1c1c"/>
  <path d="M653,209.4 H673 L674,212.3 H652 Z" fill="#151515"/>
</g>
<!-- ===== ECS2000 ===== -->
<g>
  <rect x="592" y="257.5" width="4" height="3" fill="#9a9a9a"/><rect x="687" y="257.5" width="4" height="3" fill="#9a9a9a"/>
  <rect x="585.8" y="245.8" width="112.2" height="12.2" fill="#303030"/>
  <rect x="591.6" y="246.3" width="100.6" height="11.2" fill="#262626"/>
  <g fill="#eeeeee"><rect x="587.4" y="247.3" width="1.8" height="1.8"/><rect x="587.4" y="255" width="1.8" height="1.8"/><rect x="694.6" y="247.3" width="1.8" height="1.8"/><rect x="694.6" y="255" width="1.8" height="1.8"/></g>
  <path d="M592.4,248.2 L598.6,255.2 M598.6,248.2 L592.4,255.2" stroke="#a8a8a8" stroke-width="0.7"/>
  <path d="M684,248.2 L690.2,255.2 M690.2,248.2 L684,255.2" stroke="#a8a8a8" stroke-width="0.7"/>
  <rect x="594" y="250.8" width="3" height="2" fill="#cfcfcf"/><rect x="685.6" y="250.8" width="3" height="2" fill="#cfcfcf"/>
  <rect x="600.4" y="249" width="2.4" height="5.4" fill="#555"/>
  <rect x="603.6" y="248.4" width="7.6" height="0.8" fill="#7a7a7a"/><rect x="603.6" y="251" width="7.6" height="0.8" fill="#6a6a6a"/><rect x="603.6" y="253.6" width="7.6" height="0.8" fill="#7a7a7a"/>
  <rect x="612.2" y="247" width="8.5" height="9.8" fill="#161616"/>
  <circle cx="633" cy="251.8" r="3.2" fill="#1c1c1c" stroke="#3a3a3a" stroke-width="0.5"/>
  <rect x="639.6" y="251.6" width="2.4" height="3" fill="#dcdcdc"/>
  <circle cx="645.6" cy="250.6" r="0.7" fill="#888"/>
  <rect x="656" y="249" width="22" height="0.7" fill="#7a7a7a"/><rect x="656" y="251" width="27" height="1.4" fill="#8a8a8a"/><rect x="673" y="250.6" width="9" height="2.2" fill="#c8c8c8"/><rect x="660" y="253.8" width="20" height="0.7" fill="#6a6a6a"/>
</g>
<!-- ===== EAP ===== -->
<defs><linearGradient id="eapg" x1="0" y1="0" x2="1" y2="0"><stop offset="0" stop-color="#0e0e0e"/><stop offset="0.7" stop-color="#111"/><stop offset="0.9" stop-color="#2a2a2a"/><stop offset="1" stop-color="#151515"/></linearGradient></defs>
<g>
  <rect x="585.8" y="283" width="113.9" height="12.5" fill="#1c1c1c"/>
  <rect x="591.8" y="283.5" width="102" height="11.5" fill="url(#eapg)"/>
  <g fill="#eeeeee"><rect x="587.4" y="284.5" width="1.8" height="1.8"/><rect x="587.4" y="292.5" width="1.8" height="1.8"/><rect x="696.2" y="284.5" width="1.8" height="1.8"/><rect x="696.2" y="292.5" width="1.8" height="1.8"/></g>
  <circle cx="602.2" cy="288" r="0.6" fill="#b03a2e"/><circle cx="602.2" cy="290.4" r="0.6" fill="#b03a2e"/><circle cx="606.8" cy="288" r="0.6" fill="#2eaa5e"/><circle cx="606.8" cy="290.4" r="0.6" fill="#2eaa5e"/>
  <rect x="611" y="287.4" width="3.2" height="3.2" rx="0.6" fill="none" stroke="#8a8a8a" stroke-width="0.5"/>
  <rect x="617.6" y="288.6" width="4.6" height="0.8" fill="#8a8a8a"/>
  <rect x="663" y="288.6" width="7" height="0.6" fill="#6a6a6a"/>
  <path d="M669.5,286.2 L676,287.6 L681,287 L681,291 L676,290.4 L669.5,291.8 L673,289 Z" fill="#d4d4d4"/>
</g>
<!-- return mark -->
<path d="M775.6,390 V394.4 H771" fill="none" stroke="#6a6a6a" stroke-width="0.9"/>
<path d="M769.4,394.4 L772.2,392 L772.2,396.8 Z" fill="#6a6a6a"/>
<g fill="none" stroke="#9c9c9c" stroke-width="1.1">
  <!-- top connector screens -->
  <path d="M207.7,162 V131" marker-end="url(#ar)"/>
  <path d="M207.7,162 H417.7 V122" marker-end="url(#ar)"/>
  <!-- left column -->
  <path d="M78,184.2 H108"/>
  <path d="M108.7,186.2 V356 H78.3"/>
  <path d="M76.7,259 H108.7"/>
  <path d="M108.7,186.2 H139.8" stroke="#777" marker-end="url(#ar2)"/>
  <!-- DVD up -->
  <path d="M207.7,278 V211.5" marker-end="url(#ar)"/>
  <!-- processor to switch -->
  <path d="M275.5,186.4 H281.8 V277.7" marker-end="url(#ar)"/>
  <!-- tablet to switch -->
  <path d="M424.2,247.2 H292.3 V277.7" marker-end="url(#ar)"/>
  <!-- camera bracket -->
  <path d="M353,266.4 H336.7 V311 H353"/>
  <path d="M336.7,290.7 H321" marker-end="url(#ar)"/>
  <!-- right vertical -->
  <path d="M584.2,202.3 H564.3 V288.6 H585"/>
  <path d="M564.3,252.1 H585"/>
  <path d="M564.3,247.3 H545" marker-end="url(#ar)"/>
  <!-- right brackets -->
  <path d="M729,240.7 H714.3 V258.1 H729"/>
  <path d="M714.3,252.2 H700" marker-end="url(#ar)"/>
  <path d="M729.4,278.4 H716 V295.7 H729.4"/>
  <path d="M716,288.2 H702.2" marker-end="url(#ar)"/>
</g>
</svg>

<div class="t" style="left:180px;width:72.40px;text-align:justify;text-align-last:justify;top:117.5px">指挥中心液晶拼接屏</div>
<div class="t" style="left:382.5px;width:64.40px;text-align:justify;text-align-last:justify;top:114.8px">决策会议室液晶屏</div>
<div class="t" style="left:36px;width:32.40px;text-align:justify;text-align-last:justify;top:216.5px">电子白板</div>
<div class="t" style="left:33px;width:40.40px;text-align:justify;text-align-last:justify;top:287.5px">手提笔记本</div>
<div class="t" style="left:37.5px;width:24.40px;text-align:justify;text-align-last:justify;top:382.5px">摄像机</div>
<div class="t" style="left:208.5px;width:59.95px;text-align:justify;text-align-last:justify;top:223.2px;letter-spacing:-0.25px">E系列拼控处理器</div>
<div class="t" style="left:188.5px;width:37.74px;text-align:justify;text-align-last:justify;top:309px">DVD/VCD</div>
<div class="t" style="left:281.5px;width:24.40px;text-align:justify;text-align-last:justify;top:311px">交换机</div>
<div class="t" style="left:353px;width:40.40px;text-align:justify;text-align-last:justify;top:333.5px">网络摄像头</div>
<div class="t" style="left:451.5px;width:72.40px;text-align:justify;text-align-last:justify;top:296.5px">灵石可视化集控平台</div>
<div class="t" style="left:602.5px;width:64.40px;text-align:justify;text-align-last:justify;top:219.5px">控制、演示计算机</div>
<div class="t" style="left:609.5px;width:65.51px;text-align:justify;text-align-last:justify;top:265.5px;letter-spacing:-0.22px">ECS2000智能中控</div>
<div class="t" style="left:608.797px;width:72.01px;text-align:justify;text-align-last:justify;top:304px;letter-spacing:-0.1px">EAP系列音频处理器</div>
<div class="bx" style="left:729px;top:235px;width:31px;height:10px"><span style="display:inline-block;width:18.4px;text-align:justify;text-align-last:justify">灯光</span></div>
<div class="bx" style="left:729px;top:253px;width:31px;height:10px"><span style="display:inline-block;width:18.4px;text-align:justify;text-align-last:justify">窗帘</span></div>
<div class="bx" style="left:729px;top:273px;width:32px;height:10px"><span style="display:inline-block;width:18.4px;text-align:justify;text-align-last:justify">音响</span></div>
<div class="bx" style="left:729px;top:291px;width:32px;height:10px"><span style="display:inline-block;width:27.4px;text-align:justify;text-align-last:justify">麦克风</span></div>
</body></html>
